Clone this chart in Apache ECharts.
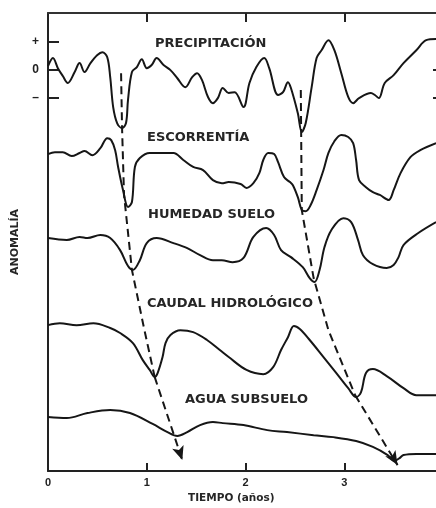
<!DOCTYPE html>
<html>
<head>
<meta charset="utf-8">
<script src="https://cdn.jsdelivr.net/npm/echarts@6/dist/echarts.min.js"></script>
<style>
html,body{margin:0;padding:0;background:#fff;}
#chart{width:436px;height:508px;}
</style>
</head>
<body>
<div id="chart"></div>
<script>
// time in years, anomaly in tick units (each trace drawn at its own vertical level)
const precipitacion = [[0,0.14],[0.05,0.43],[0.10,0.07],[0.15,-0.21],[0.20,-0.46],[0.27,-0.07],[0.32,0.25],[0.37,-0.07],[0.43,0.25],[0.50,0.54],[0.55,0.64],[0.60,0.46],[0.63,-0.25],[0.66,-1.32],[0.70,-1.89],[0.75,-2.07],[0.79,-1.89],[0.81,-1.07],[0.85,-0.07],[0.90,0.11],[0.95,0.39],[1.00,0.07],[1.05,0.18],[1.10,0.43],[1.17,0.18],[1.24,0.00],[1.31,-0.29],[1.39,-0.61],[1.46,-0.25],[1.51,-0.11],[1.56,-0.36],[1.62,-0.96],[1.67,-1.18],[1.72,-1.00],[1.77,-0.64],[1.83,-0.82],[1.89,-0.79],[1.98,-1.32],[2.04,-0.46],[2.11,0.11],[2.19,0.43],[2.24,0.07],[2.33,-0.89],[2.38,-0.79],[2.43,-0.43],[2.46,-0.64],[2.53,-1.54],[2.57,-2.21],[2.61,-1.89],[2.67,-0.61],[2.72,0.43],[2.77,0.71],[2.84,1.07],[2.90,0.71],[2.97,-0.11],[3.04,-0.96],[3.09,-1.18],[3.15,-1.00],[3.27,-0.82],[3.31,-0.89],[3.35,-1.00],[3.41,-0.46],[3.50,-0.18],[3.60,0.25],[3.73,0.71],[3.83,1.07],[3.93,1.11]];
const escorrentia = [[0,-3.00],[0.07,-2.93],[0.15,-2.93],[0.24,-3.07],[0.32,-2.96],[0.37,-2.89],[0.45,-3.04],[0.53,-2.79],[0.60,-2.43],[0.64,-2.50],[0.68,-2.86],[0.71,-3.46],[0.76,-4.29],[0.81,-4.89],[0.85,-4.71],[0.88,-3.46],[0.93,-3.14],[1.03,-2.96],[1.27,-2.96],[1.37,-3.21],[1.47,-3.46],[1.57,-3.57],[1.67,-3.93],[1.76,-4.04],[1.83,-4.00],[1.95,-4.07],[2.01,-4.21],[2.08,-4.04],[2.14,-3.68],[2.18,-3.21],[2.23,-2.96],[2.29,-3.00],[2.33,-3.29],[2.39,-3.82],[2.45,-4.00],[2.48,-4.11],[2.53,-4.54],[2.57,-5.00],[2.61,-5.04],[2.66,-4.82],[2.72,-4.29],[2.79,-3.57],[2.84,-2.96],[2.90,-2.54],[2.97,-2.32],[3.04,-2.39],[3.09,-2.61],[3.12,-3.21],[3.15,-3.93],[3.22,-4.18],[3.29,-4.36],[3.36,-4.46],[3.45,-4.64],[3.50,-4.29],[3.57,-3.68],[3.67,-3.11],[3.77,-2.86],[3.93,-2.61]];
const humedadSuelo = [[0,-6.00],[0.19,-6.07],[0.32,-5.96],[0.40,-6.00],[0.53,-5.89],[0.63,-6.00],[0.73,-6.43],[0.81,-7.00],[0.86,-7.14],[0.93,-6.79],[1.00,-6.18],[1.10,-6.00],[1.27,-6.18],[1.41,-6.36],[1.54,-6.61],[1.67,-6.79],[1.76,-6.79],[1.87,-6.86],[1.98,-6.71],[2.08,-5.96],[2.21,-5.64],[2.29,-5.89],[2.36,-6.43],[2.46,-6.68],[2.58,-7.04],[2.65,-7.43],[2.70,-7.57],[2.75,-7.14],[2.80,-6.32],[2.87,-5.71],[2.99,-5.29],[3.07,-5.43],[3.14,-6.07],[3.19,-6.61],[3.29,-6.93],[3.43,-7.07],[3.50,-6.96],[3.55,-6.68],[3.60,-6.25],[3.75,-5.82],[3.93,-5.43]];
const caudalHidrologico = [[0,-9.11],[0.12,-9.04],[0.29,-9.11],[0.46,-9.04],[0.63,-9.21],[0.73,-9.39],[0.86,-9.75],[0.96,-10.36],[1.03,-10.71],[1.08,-10.96],[1.11,-10.82],[1.16,-10.25],[1.19,-9.75],[1.24,-9.46],[1.34,-9.29],[1.47,-9.36],[1.61,-9.64],[1.74,-10.00],[1.83,-10.25],[2.01,-10.71],[2.18,-10.86],[2.28,-10.61],[2.36,-10.00],[2.43,-9.54],[2.49,-9.14],[2.55,-9.25],[2.65,-9.64],[2.79,-10.25],[2.92,-10.82],[3.04,-11.36],[3.12,-11.68],[3.17,-11.50],[3.22,-10.82],[3.29,-10.68],[3.43,-10.93],[3.60,-11.36],[3.73,-11.61],[3.93,-11.61]];
const aguaSubsuelo = [[0,-12.39],[0.19,-12.43],[0.40,-12.25],[0.63,-12.14],[0.83,-12.25],[1.06,-12.64],[1.21,-12.93],[1.31,-13.07],[1.41,-12.93],[1.54,-12.68],[1.67,-12.57],[1.77,-12.61],[1.98,-12.68],[2.22,-12.86],[2.42,-12.93],[2.69,-13.04],[2.89,-13.11],[3.12,-13.25],[3.29,-13.46],[3.44,-13.75],[3.51,-13.96],[3.56,-13.86],[3.60,-13.75],[3.73,-13.71],[3.93,-13.71]];
// propagation paths of the drought (dashed arrows)
const propagacion1 = [[0.74,-0.11],[0.75,-2.07],[0.77,-4.46],[0.85,-7.14],[0.97,-9.18],[1.08,-10.96],[1.36,-13.93]];
const propagacion2 = [[2.56,-0.71],[2.57,-5.00],[2.69,-7.43],[2.84,-9.29],[3.11,-11.61],[3.54,-14.11]];
const xTickValues = [1, 2, 3];
const xLabelValues = [0, 1, 2, 3];
const yTickValues = [1, 0, -1];
const yTickLabels = {'1': '+', '0': '0', '-1': '\u2013'};
const seriesNames = ['PRECIPITACIÓN', 'ESCORRENTÍA', 'HUMEDAD SUELO', 'CAUDAL HIDROLÓGICO', 'AGUA SUBSUELO'];

const chart = echarts.init(document.getElementById('chart'));
const ink = '#161616';
const curve = (name, data) => ({
  name, type: 'line', data, showSymbol: false, smooth: 0.35, silent: true,
  lineStyle: {color: ink, width: 2}, z: 3
});
const arrow = (data) => ({
  type: 'line', data: data.slice(0, -1), showSymbol: false, silent: true,
  lineStyle: {color: ink, width: 2, type: [8, 5]}, z: 4,
  markLine: {
    silent: true, symbol: ['none', 'arrow'], symbolSize: [9, 14],
    label: {show: false}, animation: false,
    lineStyle: {color: ink, width: 2, type: [8, 5]},
    data: [[{coord: data[data.length - 2]}, {coord: data[data.length - 1]}]]
  }
});
const labelFont = 'bold 13px "DejaVu Sans"';
const txt = (text, x, y, font) => ({
  type: 'text', x, y, silent: true,
  style: {text, font: font || labelFont, fill: '#262626', verticalAlign: 'middle', align: 'left'}
});

chart.setOption({
  animation: false,
  backgroundColor: '#fff',
  grid: {left: 48, top: 13, width: 395, height: 458, outerBoundsMode: 'none', containLabel: false},
  xAxis: [{
    type: 'value', min: 0, max: 4, position: 'bottom',
    axisLine: {show: true, onZero: false, lineStyle: {color: '#222', width: 2}},
    axisTick: {show: true, inside: true, length: 8, customValues: xTickValues, lineStyle: {color: '#222', width: 2}},
    axisLabel: {show: true, customValues: xLabelValues, margin: 6, color: '#222', fontFamily: 'Liberation Sans', fontWeight: 'bold', fontSize: 11},
    splitLine: {show: false}
  }, {
    type: 'value', min: 0, max: 4, position: 'top',
    axisLine: {show: true, onZero: false, lineStyle: {color: '#333', width: 2}},
    axisTick: {show: true, inside: true, length: 9, customValues: xTickValues, lineStyle: {color: '#222', width: 2}},
    axisLabel: {show: false},
    splitLine: {show: false}
  }],
  yAxis: [{
    type: 'value', min: -14.32, max: 2.04, position: 'left',
    name: 'ANOMALÍA', nameLocation: 'middle', nameRotate: 90, nameGap: 19,
    nameTextStyle: {fontFamily: 'DejaVu Sans', fontWeight: 'bold', fontSize: 11, color: '#262626'},
    axisLine: {show: true, onZero: false, lineStyle: {color: '#222', width: 2}},
    axisTick: {show: true, inside: true, length: 11, customValues: yTickValues, lineStyle: {color: '#222', width: 2}},
    axisLabel: {show: true, customValues: yTickValues, margin: 9, color: '#222', fontFamily: 'Liberation Sans', fontWeight: 'bold', fontSize: 12,
      formatter: v => yTickLabels[String(v)]},
    splitLine: {show: false}
  }, {
    type: 'value', min: -14.32, max: 2.04, position: 'right',
    axisLine: {show: true, onZero: false, lineStyle: {color: '#222', width: 2}},
    axisTick: {show: true, inside: true, length: 10, customValues: [0, -1], lineStyle: {color: '#222', width: 2}},
    axisLabel: {show: false},
    splitLine: {show: false}
  }],
  series: [
    curve(seriesNames[0], precipitacion),
    curve(seriesNames[1], escorrentia),
    curve(seriesNames[2], humedadSuelo),
    curve(seriesNames[3], caudalHidrologico),
    curve(seriesNames[4], aguaSubsuelo),
    arrow(propagacion1),
    arrow(propagacion2)
  ],
  graphic: [
    txt(seriesNames[0], 155, 44),
    txt(seriesNames[1], 147, 138),
    txt(seriesNames[2], 148, 215),
    txt(seriesNames[3], 147, 304),
    txt(seriesNames[4], 185, 400),
    txt('TIEMPO (años)', 188, 498, 'bold 10.5px "DejaVu Sans"')
  ]
});
</script>
</body>
</html>
